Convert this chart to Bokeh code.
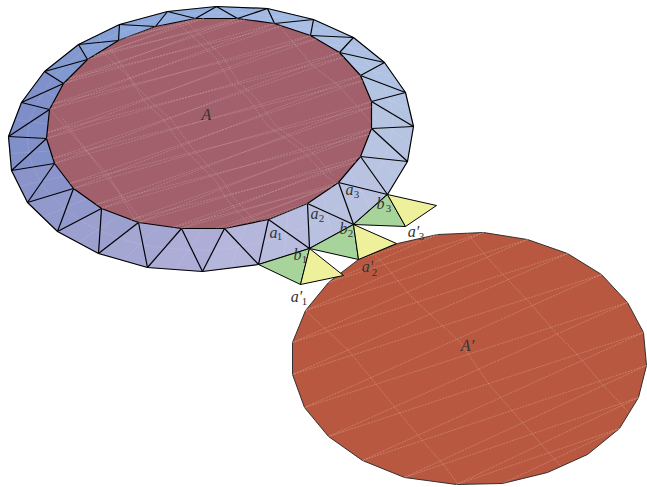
from bokeh.plotting import figure
from bokeh.models import Range1d
from bokeh.core.properties import value
from bokeh.embed import file_html
from bokeh.resources import INLINE

outer_x = [8,21,44,78,119,167,216,267,313,353,384,405,413,407,387,353,309,258,202,147,98,57,27,11]
outer_y = [136,102,71,44,24,11,6,8,19,37,62,92,126,161,194,224,248,264,271,267,253,231,202,170]
inner_x = [46,49,63,87,118,155,195,237,274,310,339,360,371,371,360,338,307,268,224,181,138,101,73,54]
inner_y = [138,109,83,59,40,26,18,18,23,35,52,75,101,128,156,182,203,219,228,228,222,208,188,163]
image_x = [292,292,305,328,358,397,437,483,527,567,601,627,643,646,638,619,587,547,502,456,404,362,328,304]
image_y = [374,342,310,282,259,243,234,232,239,253,274,302,332,365,397,428,454,472,483,484,477,460,436,407]
ring_colors = ["#7e8ec8","#8090ca","#8299d0","#86a0d6","#8ca8dc","#92aedf","#9ab4e2","#a2b9e3",
               "#a8bde3","#adc0e3","#b0c2e3","#b3c3e2","#b6c4e2","#b8c4e2","#b9c3e1","#b9c1e0",
               "#b8bde0","#b4b6dc","#adadd7","#a5a7d3","#9ba0cf","#9299cc","#8a94ca","#8290c9"]

green_x = [[258,309,300],[309,353,358],[353,387,405]]
green_y = [[264,248,284],[248,224,259],[224,194,226]]
yellow_x = [[309,343,300],[353,396,358],[387,436,405]]
yellow_y = [[248,275,284],[224,243,259],[194,205,226]]

a_chords = [(5,4),(6,3),(6,4),(7,2),(7,3),(8,1),(8,2),(9,0),(9,1),(10,23),(10,0),(11,22),(11,23),
            (12,21),(12,22),(13,20),(13,21),(14,19),(14,20),(15,18),(15,19),(16,17),(16,18)]
image_chords = [(6,3),(6,4),(7,2),(7,3),(8,1),(8,2),(9,0),(9,1),(10,23),(10,0),(11,22),(11,23),
                (12,21),(12,22),(13,20),(13,21),(14,19),(14,20),(15,18),(15,19)]
a_cross = [
    [(100,50),(127,75),(145,102),(162,118),(185,150),(215,180),(225,197),(248,224)],
    [(108,46),(135,85),(152,103),(170,118),(195,152),(222,180),(233,197),(256,222)],
    [(178,23),(215,57),(230,82),(248,98),(267,125),(288,140),(305,153),(325,175),(338,185)],
    [(186,21),(223,57),(238,82),(256,98),(275,125),(296,140),(313,153),(333,175)],
    [(282,29),(312,65),(338,85),(371,122)],
    [(52,112),(88,153),(107,173),(135,220)],
    [(62,118),(103,173),(128,203),(142,222)],
]
image_cross = [
    [(305,310),(348,350),(375,383),(397,410),(420,438),(442,463),(457,483)],
    [(370,251),(383,263),(408,293),(418,303),(460,342),(488,383),(500,397),(522,422),(548,452),(560,465)],
    [(467,233),(485,255),(508,280),(530,303),(555,332),(573,350),(582,360),(600,382),(622,405),(628,412)],
]
labels = [("A",206,114),("A′",467,345),("a",273,232),("a",314,213),("a",349,189),("b",297,254),("b",343,228),
          ("b",380,203),("a′",296,296),("a′",367,266),("a′",413,231)]
subs = [("1",279,236),("2",321,218),("3",356,194),("1",304,259),("2",350,233),("3",388,208),
        ("1",304,301),("2",374,272),("3",421,236)]

n = len(outer_x)
p = figure(width=647, height=487, x_range=Range1d(0,647), y_range=Range1d(487,0),
           output_backend="svg", toolbar_location=None, min_border=0)
p.xaxis.visible = False
p.yaxis.visible = False
p.xgrid.visible = False
p.ygrid.visible = False
p.outline_line_color = None
p.background_fill_color = "white"

tx, ty, tc = [], [], []
for i in range(n):
    j = (i+1) % n
    tx += [[outer_x[i],inner_x[i],inner_x[j]], [inner_x[j],outer_x[i],outer_x[j]]]
    ty += [[outer_y[i],inner_y[i],inner_y[j]], [inner_y[j],outer_y[i],outer_y[j]]]
    tc += [ring_colors[i], ring_colors[i]]
p.patches(tx, ty, fill_color=tc, line_color=tc, line_width=0.5)

sx, sy = [], []
for i in range(n):
    j = (i+1) % n
    sx.append([(outer_x[i]+inner_x[i])/2, (outer_x[i]+inner_x[j])/2, (outer_x[j]+inner_x[j])/2])
    sy.append([(outer_y[i]+inner_y[i])/2, (outer_y[i]+inner_y[j])/2, (outer_y[j]+inner_y[j])/2])
    sx.append([(outer_x[i]+outer_x[j])/2, (inner_x[i]+inner_x[j])/2])
    sy.append([(outer_y[i]+outer_y[j])/2, (inner_y[i]+inner_y[j])/2])
p.multi_line(sx, sy, line_color="white", line_alpha=0.16, line_width=0.6)

ex, ey = [], []
for i in range(n):
    j = (i+1) % n
    ex += [[outer_x[i],inner_x[i]], [outer_x[i],inner_x[j]]]
    ey += [[outer_y[i],inner_y[i]], [outer_y[i],inner_y[j]]]
p.multi_line(ex, ey, line_color="black", line_width=1.2)
p.patch(outer_x, outer_y, fill_color=None, line_color="black", line_width=1.2)

p.patch(inner_x, inner_y, fill_color="#a1606b", line_color="black", line_width=1.2)
mx = [[inner_x[a],inner_x[b]] for a,b in a_chords] + [[x for x,_ in c] for c in a_cross]
my = [[inner_y[a],inner_y[b]] for a,b in a_chords] + [[y for _,y in c] for c in a_cross]
for a,b in a_chords[:-1]:
    a2 = (a+1) % n; b2 = (b+1) % n
    mx.append([inner_x[a]*0.8+inner_x[a2]*0.2, inner_x[b]*0.8+inner_x[b2]*0.2])
    my.append([inner_y[a]*0.8+inner_y[a2]*0.2, inner_y[b]*0.8+inner_y[b2]*0.2])
p.multi_line(mx, my, line_color="#f0dcdc", line_alpha=0.42, line_width=0.55, line_dash="2 1")

p.patch(image_x, image_y, fill_color="#b85840", line_color="#222222", line_width=0.9)
qx = [[image_x[a],image_x[b]] for a,b in image_chords] + [[x for x,_ in c] for c in image_cross]
qy = [[image_y[a],image_y[b]] for a,b in image_chords] + [[y for _,y in c] for c in image_cross]
p.multi_line(qx, qy, line_color="#f3d9cc", line_alpha=0.5, line_width=0.55, line_dash="2 1")

p.patches(green_x, green_y, fill_color="#a6d49b", line_color="black", line_width=1.0)
p.patches(yellow_x, yellow_y, fill_color="#eff09c", line_color="black", line_width=1.0)

p.text([l[1] for l in labels], [l[2] for l in labels], text=[l[0] for l in labels],
       text_font=value("Liberation Serif"), text_font_style="italic", text_font_size="16px",
       text_color="#333333", text_align="center", text_baseline="middle")
p.text([s[1] for s in subs], [s[2] for s in subs], text=[s[0] for s in subs],
       text_font=value("Liberation Serif"), text_font_size="11px",
       text_color="#333333", text_align="center", text_baseline="middle")

open("out.html", "w").write(file_html(p, INLINE))
